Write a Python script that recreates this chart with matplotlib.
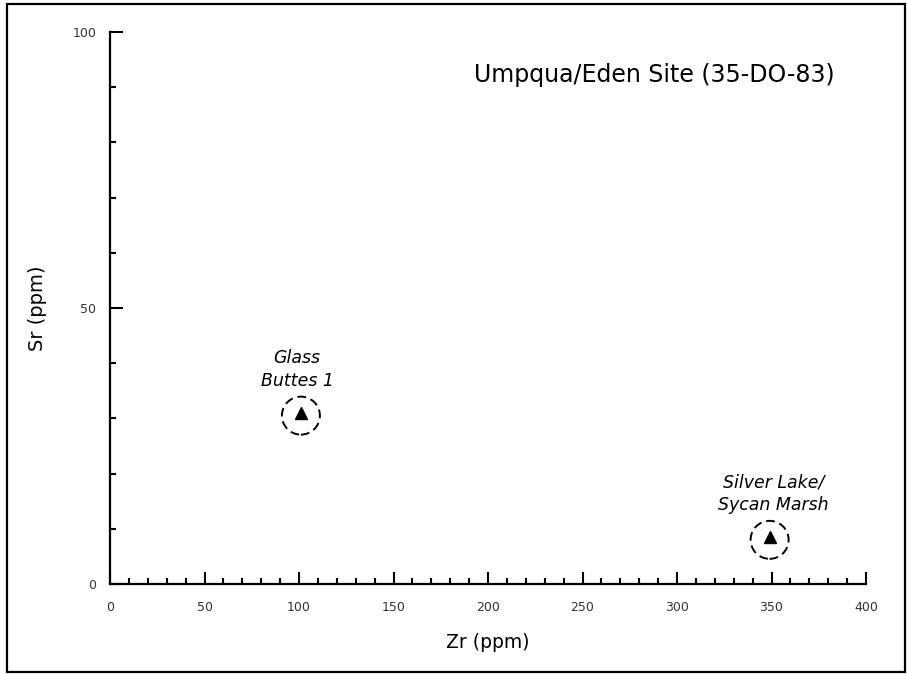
import matplotlib
matplotlib.use("Agg")
import matplotlib.pyplot as plt
from matplotlib.patches import Ellipse, Rectangle
from matplotlib.ticker import MultipleLocator

# Data
sources = ["Glass\nButtes 1", "Silver Lake/\nSycan Marsh"]
zr_ppm = [101, 349]
sr_ppm = [31, 8.5]
label_x = [99, 351]
label_y = [38.8, 16.3]
title = "Umpqua/Eden Site (35-DO-83)"

W, H = 907, 674
fig = plt.figure(figsize=(W / 100, H / 100), dpi=100)
plt.rcParams['font.family'] = ['DejaVu Sans']

# outer border
fig.patches.append(Rectangle((7 / W, 1 - 672 / H), (905 - 7) / W, (672 - 4) / H,
                             transform=fig.transFigure, fill=False, lw=1.6,
                             edgecolor='black'))

ax = fig.add_axes([110 / W, 1 - 584 / H, 756 / W, 552 / H])
ax.set_xlim(0, 400)
ax.set_ylim(0, 100)
for s in ['top', 'right']:
    ax.spines[s].set_visible(False)
for s in ['left', 'bottom']:
    ax.spines[s].set_linewidth(1.6)

ax.xaxis.set_major_locator(MultipleLocator(50))
ax.xaxis.set_minor_locator(MultipleLocator(10))
ax.yaxis.set_major_locator(MultipleLocator(50))
ax.yaxis.set_minor_locator(MultipleLocator(10))
ax.tick_params(which='major', direction='in', length=9, width=1.5,
               labelsize=9, labelcolor='#333333')
ax.tick_params(which='minor', direction='in', length=4.5, width=1.5)
ax.tick_params(axis='x', which='major', pad=12)
ax.tick_params(axis='y', which='major', pad=10)

ax.set_xlabel("Zr (ppm)", fontsize=13.5, labelpad=14)
ax.set_ylabel("Sr (ppm)", fontsize=14, labelpad=18)

ax.plot(zr_ppm, sr_ppm, linestyle='none', marker='^', color='black',
        markersize=8, clip_on=False)

rx = 19 / (756 / 400)
ry = 19 / (552 / 100)
for x, y in zip(zr_ppm, sr_ppm):
    ax.add_patch(Ellipse((x, y - 0.5), 2 * rx, 2 * ry, fill=False,
                         linestyle=(0, (4.5, 2.5)), lw=1.4, edgecolor='black'))

for name, lx, ly in zip(sources, label_x, label_y):
    ax.text(lx, ly, name, ha='center', va='center', fontsize=12.5,
            style='italic', linespacing=1.35)

ax.text(383.5, 92.2, title, ha='right', va='center', fontsize=17)

fig.savefig("out.png", dpi=100)
